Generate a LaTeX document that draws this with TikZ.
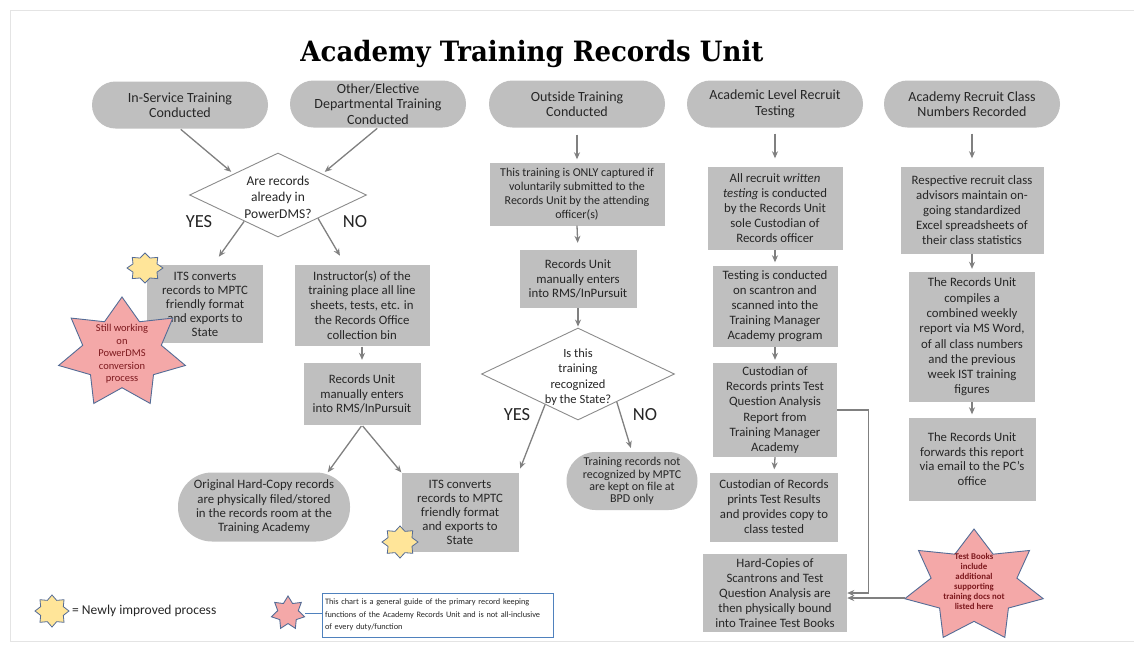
\documentclass[tikz,border=0pt]{standalone}
\usepackage{fontspec}
\setmainfont{Carlito}
\newfontfamily\titlefont{DejaVu Serif}[FakeStretch=0.93]
\usetikzlibrary{shapes.geometric,arrows.meta,calc}

\definecolor{boxgray}{RGB}{191,191,191}
\definecolor{txt}{RGB}{38,38,38}
\definecolor{lin}{RGB}{128,128,128}
\definecolor{dgray}{RGB}{140,140,140}
\definecolor{pinkf}{RGB}{244,168,168}
\definecolor{yellf}{RGB}{255,229,153}
\definecolor{starb}{RGB}{84,108,150}
\definecolor{redtxt}{RGB}{125,25,30}
\definecolor{noteb}{RGB}{79,129,189}
\definecolor{framec}{RGB}{228,228,228}

\newcommand\fsz[2]{\fontsize{#1}{#2}\selectfont}
% star outline: style, cx, cy, rx, ry, points, last index (2n-1), inner factor
\newcommand\mkstar[8]{%
  \filldraw[#1] plot[samples at={0,...,#7}, variable=\k]
    ({#2+(iseven(\k)?1:#8)*#4*sin(\k*180/#6)},
     {#3-(iseven(\k)?1:#8)*#5*cos(\k*180/#6)}) -- cycle;}

\tikzset{
  box/.style={fill=boxgray, text=txt, align=center, inner sep=0pt, font=\fsz{12.8}{14.8}},
  sz/.style 2 args={minimum width=#1pt, minimum height=#2pt},
  pill/.style={box, rounded corners=#1},
  pill/.default=23pt,
  topnode/.style={pill=23.5pt, sz={176}{47}, font=\fsz{14}{15.5}},
  dia/.style={diamond, draw=dgray, fill=white, line width=0.9pt, inner sep=0pt},
  dtext/.style={text=txt, align=center, inner sep=0pt},
  yn/.style={text=txt, inner sep=0pt, font=\fsz{18.5}{20}},
  arr/.style={draw=lin, line width=1.3pt, -{Stealth[length=7pt,width=6pt]}},
  pinkstar/.style={fill=pinkf, draw=starb, line width=0.9pt},
  yelstar/.style={fill=yellf, draw=starb, line width=0.8pt},
  startext/.style={text=redtxt, align=center, inner sep=0pt},
}

\begin{document}
\begin{tikzpicture}[x=1pt,y=-1pt]
\useasboundingbox (0,0) rectangle (1134,646);
\fill[white] (0,0) rectangle (1134,646);
\draw[framec, line width=1pt] (10,10) rectangle (1145,641);

% heading
\node[font=\titlefont\bfseries\fsz{28}{30}, text=black, anchor=base, inner sep=0pt]
  (title) at (532,61) {Academy Training Records Unit};

% starting points of the five streams
\node[topnode] (ins)  at (180,105) {In-Service Training\\Conducted};
\node[topnode] (oth)  at (378,104) {Other/Elective\\Departmental Training\\Conducted};
\node[topnode] (out)  at (577,104) {Outside Training\\Conducted};
\node[topnode] (acad) at (775,104) {Academic Level Recruit\\Testing};
\node[topnode] (cls)  at (972,104) {Academy Recruit Class\\Numbers Recorded};

% in-service / departmental stream
\node[dia, sz={177}{84}] (d1) at (278,195) {};
\node[dtext, font=\fsz{13.5}{16.5}] (d1t) at (278,197) {Are records\\already in\\PowerDMS?};
\node[yn] (yes1) at (199,222) {YES};
\node[yn] (no1)  at (355,222) {NO};

\node[box, sz={116}{78}, font=\fsz{12.8}{14}] (its1) at (205,304)
  {ITS converts\\records to MPTC\\friendly format\\and exports to\\State};
\node[box, sz={135}{81}] (instr) at (362,305)
  {Instructor(s) of the\\training place all line\\sheets, tests, etc. in\\the Records Office\\collection bin};
\node[box, sz={117}{62}] (ru1) at (362,394)
  {Records Unit\\manually enters\\into RMS/InPursuit};
\node[pill=34pt, sz={172}{69}, font=\fsz{12.8}{14.4}] (orig) at (264,507)
  {Original Hard-Copy records\\are physically filed/stored\\in the records room at the\\Training Academy};
\node[box, sz={117}{79}, font=\fsz{12.8}{14}] (its2) at (460,512)
  {ITS converts\\records to MPTC\\friendly format\\and exports to\\State};

% outside training stream
\node[box, sz={175}{63}, font=\fsz{12}{13.8}] (only) at (577,194)
  {This training is ONLY captured if\\voluntarily submitted to the\\Records Unit by the attending\\officer(s)};
\node[box, sz={117}{58}] (ru2) at (578,279)
  {Records Unit\\manually enters\\into RMS/InPursuit};
\node[dia, sz={193}{92}] (d2) at (578,374) {};
\node[dtext, font=\fsz{12.5}{15.5}] (d2t) at (578,377) {Is this\\training\\recognized\\by the State?};
\node[yn] (yes2) at (517,415) {YES};
\node[yn] (no2)  at (645,415) {NO};
\node[pill=29pt, sz={131}{58}, font=\fsz{12}{12.3}] (notrec) at (632,481)
  {Training records not\\recognized by MPTC\\are kept on file at\\BPD only};

% recruit testing stream
\node[box, sz={135}{83}, font=\fsz{12.8}{15}] (written) at (775,208)
  {All recruit \textit{written}\\\textit{testing} is conducted\\by the Records Unit\\sole Custodian of\\Records officer};
\node[box, sz={125}{81}, font=\fsz{12.8}{15}] (scan) at (775,306)
  {Testing is conducted\\on scantron and\\scanned into the\\Training Manager\\Academy program};
\node[box, sz={124}{94}, font=\fsz{12.8}{15.3}] (cpr) at (775,410)
  {Custodian of\\Records prints Test\\Question Analysis\\Report from\\Training Manager\\Academy};
\node[box, sz={128}{69}, font=\fsz{12.8}{15}] (cres) at (774,507)
  {Custodian of Records\\prints Test Results\\and provides copy to\\class tested};
\node[box, sz={144}{78}, font=\fsz{12.8}{15}] (hc) at (775,593)
  {Hard-Copies of\\Scantrons and Test\\Question Analysis are\\then physically bound\\into Trainee Test Books};

% class numbers stream
\node[box, sz={143}{87}, font=\fsz{12.8}{15}] (resp) at (972,210)
  {Respective recruit class\\advisors maintain on-\\going standardized\\Excel spreadsheets of\\their class statistics};
\node[box, sz={126}{130}, font=\fsz{12.8}{15.3}] (comp) at (972,337)
  {The Records Unit\\compiles a\\combined weekly\\report via MS Word,\\of all class numbers\\and the previous\\week IST training\\figures};
\node[box, sz={127}{83}, font=\fsz{12.8}{14.5}] (fwd) at (972,459)
  {The Records Unit\\forwards this report\\via email to the PC's\\office};

% connectors
\draw[arr, shorten <=1pt, shorten >=3pt] (ins.south) -- (d1.north west);
\draw[arr, shorten <=1pt, shorten >=3pt] (oth.south) -- (d1.north east);
\draw[arr, shorten >=10pt] ($(d1.south)!.38!(d1.west)$) -- ($(its1.north)+(8,0)$);
\draw[arr, shorten >=10pt] ($(d1.south)!.45!(d1.east)$) -- ($(instr.north)+(-17,0)$);
\draw[arr, shorten <=1pt, shorten >=3pt] (instr.south) -- (ru1.north);
\draw[arr, shorten <=1pt] (ru1.south) -- ($(orig.north)!.74!(orig.north east)$);
\draw[arr, shorten <=1pt] (ru1.south) -- (its2.north west);

\draw[arr, shorten <=7pt, shorten >=3pt] (out.south) -- (only.north);
\draw[arr, shorten >=7pt] (only.south) -- (ru2.north);
\draw[arr, shorten >=1pt] (ru2.south) -- (d2.north);
\draw[arr, shorten >=4pt] ($(d2.south)!.34!(d2.west)$) -- (its2.north east);
\draw[arr, shorten >=4pt] ($(d2.south)!.4!(d2.east)$) -- (notrec.north);

\draw[arr, shorten <=6pt, shorten >=8pt] (acad.south) -- (written.north);
\draw[arr, shorten >=3pt] (written.south) -- (scan.north);
\draw[arr, shorten >=3pt] (scan.south) -- (cpr.north);
\draw[arr, shorten >=3pt] (cpr.south) -- (cres.north);
\draw[arr] (cpr.east) -- ++(31,0) |- (hc.east);

\draw[arr, shorten <=6pt, shorten >=8pt] (cls.south) -- (resp.north);
\draw[arr, shorten >=3pt] (resp.south) -- (comp.north);
\draw[arr, shorten >=3pt] (comp.south) -- (fwd.north);

% callout stars
\mkstar{yelstar}{145}{268}{18}{15}{8}{15}{0.72}
\mkstar{pinkstar}{122}{353}{65}{56}{7}{13}{0.62}
\node[startext, font=\fsz{10.5}{12.5}] (wip) at (122,354)
  {Still working\\on\\PowerDMS\\conversion\\process};
\mkstar{yelstar}{400}{542}{18}{16}{8}{15}{0.72}

\mkstar{pinkstar}{974}{586}{71}{57}{7}{13}{0.62}
\node[startext, font=\bfseries\fsz{8.8}{10}] (tbtxt) at (974,581)
  {Test Books\\include\\additional\\supporting\\training docs not\\listed here};
\coordinate (tbtip) at (905,598);
\draw[arr] (tbtip) -- (hc.east |- tbtip);

% legend
\mkstar{yelstar}{52}{611}{17}{16}{8}{15}{0.72}
\node[text=txt, anchor=west, inner sep=0pt, font=\fsz{13.5}{16}] (lgtxt) at (72,611)
  {= Newly improved process};
\mkstar{pinkstar}{288}{613}{17}{17}{7}{13}{0.62}
\node[draw=noteb, line width=0.9pt, fill=white, sz={231}{44}, text width=225pt,
      align=left, inner sep=3pt, text=txt, font=\fsz{8.3}{12.5}] (note) at (437.5,615)
  {This chart is a general guide of the primary record keeping\\functions of the Academy Records Unit and is not all-inclusive\\of every duty/function};
\coordinate (lgtip) at (305,613);
\draw[noteb, line width=0.9pt] (lgtip) -- (lgtip -| note.west);
\end{tikzpicture}
\end{document}
